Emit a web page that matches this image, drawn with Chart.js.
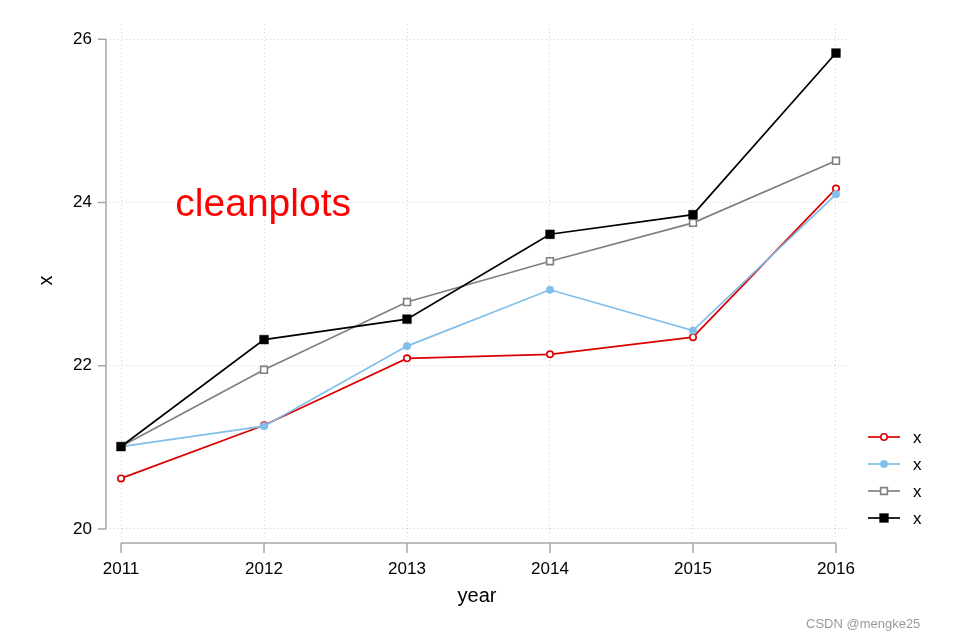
<!DOCTYPE html>
<html><head><meta charset="utf-8">
<script src="https://cdn.jsdelivr.net/npm/chart.js@4/dist/chart.umd.min.js"></script>
<style>html,body{margin:0;padding:0;background:#fff;}canvas{display:block;}</style>
</head><body>
<canvas id="c" width="963" height="642"></canvas>
<script>
const years = [2011, 2012, 2013, 2014, 2015, 2016];
const yTicks = [20, 22, 24, 26];
const seriesLabels = ['x', 'x', 'x', 'x'];
const redValues   = [20.62, 21.27, 22.09, 22.14, 22.35, 24.17];
const blueValues  = [21.01, 21.26, 22.24, 22.93, 22.43, 24.10];
const grayValues  = [21.01, 21.95, 22.78, 23.28, 23.75, 24.51];
const blackValues = [21.01, 22.32, 22.57, 23.61, 23.85, 25.83];
const annotationText = 'cleanplots';
const watermarkText = 'CSDN @mengke25';

const FONT = "'Liberation Sans', Arial, sans-serif";
const AXIS_GRAY = '#a6a6a6';

function toXY(vals){ return years.map((y,i)=>({x:y, y:vals[i]})); }

const datasets = [
  {label: seriesLabels[0], data: toXY(redValues), borderColor:'#dd0000', backgroundColor:'#ffffff',
   pointStyle:'circle', pointRadius:3.2, pointBorderWidth:1.6, borderWidth:1.7, order:4},
  {label: seriesLabels[1], data: toXY(blueValues), borderColor:'#7fbfea', backgroundColor:'#7fbfea',
   pointStyle:'circle', pointRadius:3.8, pointBorderWidth:0.5, borderWidth:1.7, order:3},
  {label: seriesLabels[2], data: toXY(grayValues), borderColor:'#808080', backgroundColor:'#ffffff',
   pointStyle:'rect', pointRadius:4.8, pointBorderWidth:1.6, borderWidth:1.7, order:2},
  {label: seriesLabels[3], data: toXY(blackValues), borderColor:'#000000', backgroundColor:'#000000',
   pointStyle:'rect', pointRadius:6.2, pointBorderWidth:0.5, borderWidth:1.7, order:1}
].map(d=>Object.assign(d,{fill:false, tension:0, pointHoverRadius:d.pointRadius}));

const decor = {
  id:'decor',
  afterDraw(chart){
    const ctx = chart.ctx, xs = chart.scales.x, ys = chart.scales.y;
    const ca = chart.chartArea;
    ctx.save();
    ctx.strokeStyle = AXIS_GRAY; ctx.lineWidth = 1.5; ctx.setLineDash([]);
    const yAxX = ca.left;
    ctx.beginPath();
    ctx.moveTo(yAxX, ys.getPixelForValue(yTicks[0]));
    ctx.lineTo(yAxX, ys.getPixelForValue(yTicks[yTicks.length-1]));
    yTicks.forEach(v=>{ const p = ys.getPixelForValue(v); ctx.moveTo(yAxX, p); ctx.lineTo(yAxX-8, p); });
    ctx.stroke();
    const xAxY = ca.bottom + 6;
    ctx.beginPath();
    ctx.moveTo(xs.getPixelForValue(years[0]), xAxY);
    ctx.lineTo(xs.getPixelForValue(years[years.length-1]), xAxY);
    years.forEach(v=>{ const p = xs.getPixelForValue(v); ctx.moveTo(p, xAxY); ctx.lineTo(p, xAxY+10); });
    ctx.stroke();
    ctx.fillStyle = '#ff0000';
    ctx.font = '39px ' + FONT;
    ctx.textBaseline = 'middle'; ctx.textAlign = 'left';
    ctx.fillText(annotationText, xs.getPixelForValue(2011.38), ys.getPixelForValue(23.97));
    const lx0 = 868, lx1 = 900, ly0 = 437, dy = 27;
    chart.data.datasets.forEach((d,i)=>{
      const y = ly0 + i*dy;
      ctx.strokeStyle = d.borderColor; ctx.lineWidth = d.borderWidth;
      ctx.beginPath(); ctx.moveTo(lx0, y); ctx.lineTo(lx1, y); ctx.stroke();
      ctx.fillStyle = d.backgroundColor; ctx.lineWidth = d.pointBorderWidth; ctx.strokeStyle = d.borderColor;
      ctx.beginPath();
      if (d.pointStyle === 'circle') { ctx.arc((lx0+lx1)/2, y, d.pointRadius, 0, Math.PI*2); }
      else { const s = Math.SQRT1_2*d.pointRadius; ctx.rect((lx0+lx1)/2 - s, y - s, 2*s, 2*s); }
      ctx.fill(); ctx.stroke();
      ctx.fillStyle = '#000'; ctx.font = '17px ' + FONT; ctx.textBaseline='middle'; ctx.textAlign='left';
      ctx.fillText(d.label, 913, y+1);
    });
    ctx.fillStyle = '#9a9a9a'; ctx.font = '13px ' + FONT; ctx.textAlign='left'; ctx.textBaseline='middle';
    ctx.fillText(watermarkText, 806, 624);
    ctx.restore();
  }
};

new Chart(document.getElementById('c'), {
  type:'line',
  data:{datasets},
  plugins:[decor],
  options:{
    responsive:false, animation:false, devicePixelRatio:1,
    layout:{padding:{left:0, right:115, top:22, bottom:0}},
    plugins:{legend:{display:false}, tooltip:{enabled:false}},
    scales:{
      x:{type:'linear', min:2010.895, max:2016.084,
        afterBuildTicks(s){ s.ticks = years.map(v=>({value:v})); },
        afterFit(s){ s.height = 105; },
        grid:{color:'#cfcfcf', lineWidth:1, drawTicks:false},
        border:{display:false, dash:[1,3]},
        ticks:{padding:22, color:'#000', font:{family:FONT, size:17}, maxRotation:0, autoSkip:false,
          callback:(v)=>String(v)},
        title:{display:true, text:'year', color:'#000', font:{family:FONT, size:20}, padding:{top:0,bottom:34}}
      },
      y:{type:'linear', min:19.902, max:26.183,
        afterBuildTicks(s){ s.ticks = yTicks.map(v=>({value:v})); },
        afterFit(s){ s.width = 106; },
        grid:{color:'#cfcfcf', lineWidth:1, drawTicks:false},
        border:{display:false, dash:[1,3]},
        ticks:{padding:14, color:'#000', font:{family:FONT, size:17}, callback:(v)=>String(v)},
        title:{display:true, text:'x', color:'#000', font:{family:FONT, size:20}, padding:{top:34,bottom:0}}
      }
    }
  }
});
</script>
</body></html>
